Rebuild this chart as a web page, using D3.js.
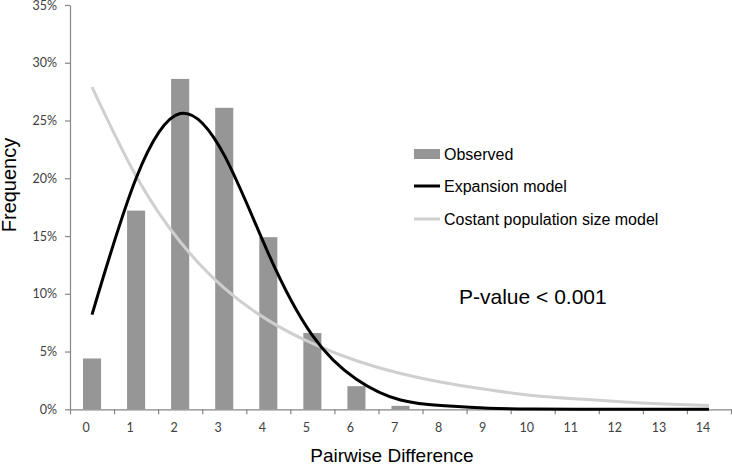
<!DOCTYPE html>
<html>
<head>
<meta charset="utf-8">
<script src="https://cdn.jsdelivr.net/npm/d3@7"></script>
<style>
html,body{margin:0;padding:0;background:#fff;}
svg{display:block;}
</style>
</head>
<body>
<svg id="chart" width="732" height="464"></svg>
<script>
// ---- data ----
const categories = [0,1,2,3,4,5,6,7,8,9,10,11,12,13,14];
const observed   = [0.044,0.172,0.286,0.261,0.149,0.066,0.020,0.003,0,0,0,0,0,0,0];
const expansion  = [0.082,0.200,0.256,0.220,0.135,0.064,0.026,0.008,0.003,0.001,0.0003,0.0001,0,0,0];
const constant   = [0.279,0.202,0.145,0.105,0.077,0.057,0.042,0.031,0.023,0.017,0.012,0.009,0.0065,0.0046,0.0032];
const yTicks     = [0,0.05,0.10,0.15,0.20,0.25,0.30,0.35];
const legendLabels = ["Observed","Expansion model","Costant population size model"];
const annotation = "P-value < 0.001";
const xTitle = "Pairwise Difference";
const yTitle = "Frequency";

const svg = d3.select("#chart");
const pLeft = 70, pRight = 731, pTop = 5, pBottom = 409.3;

const x = d3.scaleBand().domain(categories).range([pLeft, pRight]).padding(0);
const xb = d3.scaleLinear().domain([0, categories.length]).range([pLeft, pRight]);
const y = d3.scaleLinear().domain([0, 0.35]).range([pBottom, pTop]);

const axisColor = "#868686";
const labelColor = "#404040";
const tickFont = "Lato, 'Open Sans', sans-serif";

// bars
const bw = x.bandwidth() * 0.41;
svg.append("g").selectAll("rect").data(categories).join("rect")
  .attr("x", (d,i) => x(d) + x.bandwidth()/2 - bw/2)
  .attr("y", (d,i) => y(observed[i]))
  .attr("width", bw)
  .attr("height", (d,i) => y(0) - y(observed[i]))
  .attr("fill", "#969696");

// y axis
const yAxis = svg.append("g").attr("transform", `translate(${pLeft},0)`)
  .call(d3.axisLeft(y).tickValues(yTicks).tickFormat(d3.format(".0%")).tickSize(5).tickSizeOuter(0));
yAxis.select(".domain").attr("stroke", axisColor).attr("stroke-width", 1.2);
yAxis.selectAll(".tick line").attr("stroke", axisColor).attr("stroke-width", 1.2);
yAxis.selectAll(".tick text").attr("x", -13).attr("fill", labelColor)
  .style("font-family", tickFont).style("font-size", "12.5px");

// x axis (boundary ticks)
const xAxis = svg.append("g").attr("transform", `translate(0,${pBottom})`)
  .call(d3.axisBottom(xb).tickValues(d3.range(0, categories.length + 1)).tickFormat("").tickSize(5).tickSizeOuter(0));
xAxis.select(".domain").attr("stroke", axisColor).attr("stroke-width", 1.2);
xAxis.selectAll(".tick line").attr("stroke", axisColor).attr("stroke-width", 1.2);

// x labels
svg.append("g").selectAll("text").data(categories).join("text")
  .attr("x", d => x(d) + x.bandwidth()/2 - 6)
  .attr("y", 432)
  .attr("text-anchor", "middle")
  .attr("fill", labelColor)
  .style("font-family", tickFont).style("font-size", "12.5px")
  .text(d => d);

// curves
const line = (vals) => d3.line()
  .x((d,i) => x(categories[i]) + x.bandwidth()/2)
  .y(d => y(d))
  .curve(d3.curveNatural)(vals);

svg.append("path").attr("d", line(constant))
  .attr("fill", "none").attr("stroke", "#cfcfcf").attr("stroke-width", 3);
svg.append("path").attr("d", line(expansion))
  .attr("fill", "none").attr("stroke", "#000").attr("stroke-width", 3);

// legend
const lg = svg.append("g").style("font-family", "'Liberation Sans', Arial, sans-serif").style("font-size", "16px");
const rows = [154, 186, 219];
lg.append("rect").attr("x", 414).attr("y", rows[0]-5).attr("width", 26).attr("height", 10).attr("fill", "#969696");
lg.append("line").attr("x1", 414).attr("x2", 440).attr("y1", rows[1]).attr("y2", rows[1]).attr("stroke", "#000").attr("stroke-width", 3);
lg.append("line").attr("x1", 414).attr("x2", 440).attr("y1", rows[2]).attr("y2", rows[2]).attr("stroke", "#cfcfcf").attr("stroke-width", 3);
lg.selectAll("text").data(legendLabels).join("text")
  .attr("x", 444).attr("y", (d,i) => rows[i]).attr("dy", "0.35em")
  .attr("fill", "#000").text(d => d);

// annotation
svg.append("text").attr("x", 459).attr("y", 304)
  .style("font-family", "'Liberation Sans', Arial, sans-serif").style("font-size", "21px")
  .attr("fill", "#000").text(annotation);

// axis titles
svg.append("text").attr("x", 392).attr("y", 462)
  .attr("text-anchor", "middle")
  .style("font-family", "'Liberation Sans', Arial, sans-serif").style("font-size", "19px")
  .attr("fill", "#000").text(xTitle);
svg.append("text").attr("transform", "translate(16,185) rotate(-90)")
  .attr("text-anchor", "middle")
  .style("font-family", "'Liberation Sans', Arial, sans-serif").style("font-size", "20px")
  .attr("fill", "#000").text(yTitle);
</script>
</body>
</html>
